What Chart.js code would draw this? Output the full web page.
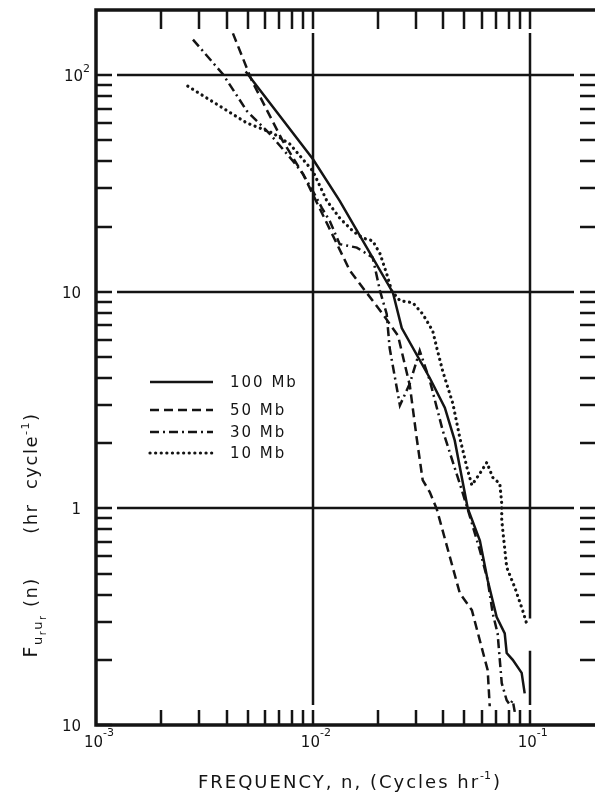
<!DOCTYPE html>
<html lang="en">
<head>
<title>Spectra of u_r at four levels</title>
<script src="https://cdn.jsdelivr.net/npm/chart.js"></script>
<style>
    html, body { margin: 0; padding: 0; background: #fff; }
    #chartBox { width: 595px; height: 798px; }
</style>
</head>
<body>
<div id="chartBox">
    <canvas id="spectrumChart" width="595" height="798"></canvas>
</div>

<script>
// Values: frequency n (cycles/hr) and F(n) (hr/cycle)
const freq100 = [0.0049, 0.01, 0.0133, 0.0234, 0.0257, 0.0346, 0.0406, 0.0451, 0.0518, 0.0589, 0.064, 0.0704, 0.0767, 0.0783, 0.0835, 0.0918, 0.0948];
const spec100 = [104, 41, 26.3, 9.9, 6.8, 4.0, 2.92, 2.06, 1.0, 0.71, 0.466, 0.315, 0.265, 0.215, 0.20, 0.174, 0.14];

const freq50 = [0.00428, 0.00524, 0.00727, 0.0090, 0.01483, 0.021, 0.0247, 0.028, 0.0301, 0.0321, 0.0346, 0.0373, 0.0476, 0.0541, 0.064, 0.0654];
const spec50 = [156, 94, 49.6, 35, 12.5, 7.9, 6.27, 3.69, 2.12, 1.35, 1.19, 0.99, 0.406, 0.339, 0.179, 0.122];

const freq30 = [0.0028, 0.00385, 0.00497, 0.00634, 0.00809, 0.009, 0.01, 0.011, 0.01197, 0.0133, 0.01595, 0.01888, 0.0204, 0.0219, 0.0226, 0.0252, 0.028, 0.0311, 0.0346, 0.0397, 0.0476, 0.0518, 0.0589, 0.064, 0.0675, 0.0711, 0.0743, 0.0783, 0.0809, 0.0835, 0.0853];
const spec30 = [146, 101, 68.2, 53.5, 40.2, 35, 29.2, 24.4, 21.2, 16.6, 16.0, 14.4, 10.1, 7.9, 5.5, 2.99, 3.77, 5.35, 3.9, 2.29, 1.30, 0.99, 0.64, 0.466, 0.328, 0.265, 0.156, 0.130, 0.124, 0.130, 0.115];

const freq10 = [0.00265, 0.00385, 0.00497, 0.0057, 0.00654, 0.00783, 0.01, 0.0116, 0.0133, 0.01527, 0.017, 0.01888, 0.0204, 0.0219, 0.0231, 0.0252, 0.0289, 0.0321, 0.0357, 0.0373, 0.0397, 0.0442, 0.0476, 0.0513, 0.0541, 0.0589, 0.0634, 0.0675, 0.0728, 0.0743, 0.0743, 0.0783, 0.0853, 0.0927, 0.0979];
const spec10 = [89, 70.5, 60.1, 57, 54, 48.1, 36.1, 26.3, 21.9, 19.1, 17.7, 17.2, 15.0, 12.1, 10.1, 9.1, 8.9, 7.9, 6.6, 5.5, 4.3, 3.05, 2.12, 1.55, 1.28, 1.45, 1.63, 1.39, 1.30, 1.05, 0.88, 0.535, 0.432, 0.339, 0.283];

const seriesNames = ['100 Mb', '50 Mb', '30 Mb', '10 Mb'];

// axis labels: base text + superscript, as printed on the figure
const yLabelValues = [100, 10, 1, 0.1];
const yLabelBase = ['10', '10', '1', '10'];
const yLabelSup = ['2', '', '', ''];
const xLabelValues = [0.001, 0.01, 0.1];
const xLabelBase = ['10', '10', '10'];
const xLabelSup = ['-3', '-2', '-1'];

const INK = '#141414';
const FONT = '"DejaVu Sans", sans-serif';

function points(fs, vs) {
    return fs.map((f, i) => ({ x: f, y: vs[i] }));
}

function lineSet(label, fs, vs, dash, cap, width) {
    return {
        label: label,
        data: points(fs, vs),
        borderColor: INK,
        borderWidth: width,
        borderDash: dash,
        borderCapStyle: cap,
        pointRadius: 0,
        tension: 0,
        fill: false
    };
}

// draws frame, inside ticks, broken grid lines, tick labels, titles and legend
const paperPlugin = {
    id: 'paper',
    afterDatasetsDraw(chart) {
        const ctx = chart.ctx;
        const xs = chart.scales.x;
        const ys = chart.scales.y;
        const a = chart.chartArea;
        ctx.save();
        ctx.strokeStyle = INK;
        ctx.fillStyle = INK;
        ctx.lineCap = 'butt';

        // grid lines (with small gaps near the frame like the original)
        ctx.lineWidth = 2.5;
        [1, 10, 100].forEach(v => {
            const y = Math.round(ys.getPixelForValue(v));
            ctx.beginPath();
            ctx.moveTo(a.left + 21, y);
            ctx.lineTo(a.right - 21, y);
            ctx.stroke();
        });
        const gridTop = a.top + 23;
        const gridBot = a.bottom - 20;
        let x = Math.round(xs.getPixelForValue(0.01));
        ctx.beginPath(); ctx.moveTo(x, gridTop); ctx.lineTo(x, gridBot); ctx.stroke();
        x = Math.round(xs.getPixelForValue(0.1));
        ctx.beginPath();
        ctx.moveTo(x, gridTop); ctx.lineTo(x, ys.getPixelForValue(0.31));
        ctx.moveTo(x, ys.getPixelForValue(0.22)); ctx.lineTo(x, gridBot);
        ctx.stroke();

        // ticks on left and right (pointing in)
        ctx.lineWidth = 2.5;
        [-1, 0, 1].forEach(e => {
            for (let m = 1; m <= 9; m++) {
                const v = m * Math.pow(10, e);
                if (v < 0.1 || v > 100) continue;
                const y = Math.round(ys.getPixelForValue(v));
                ctx.beginPath();
                ctx.moveTo(a.left, y); ctx.lineTo(a.left + 16, y);
                ctx.moveTo(a.right, y); ctx.lineTo(a.right - 15, y);
                ctx.stroke();
            }
        });
        ctx.beginPath();
        const y100 = Math.round(ys.getPixelForValue(100));
        ctx.moveTo(a.left, y100); ctx.lineTo(a.left + 16, y100);
        ctx.moveTo(a.right, y100); ctx.lineTo(a.right - 15, y100);
        ctx.stroke();

        // ticks on top and bottom
        [-3, -2].forEach(e => {
            for (let m = 2; m <= 10; m++) {
                const xp = Math.round(xs.getPixelForValue(m * Math.pow(10, e)));
                ctx.beginPath();
                ctx.moveTo(xp, a.top); ctx.lineTo(xp, a.top + 19);
                ctx.moveTo(xp, a.bottom); ctx.lineTo(xp, a.bottom - 15);
                ctx.stroke();
            }
        });

        // frame: left, top, bottom
        ctx.lineWidth = 3.5;
        ctx.beginPath();
        ctx.moveTo(a.right, a.top); ctx.lineTo(a.left, a.top);
        ctx.lineTo(a.left, a.bottom); ctx.lineTo(a.right, a.bottom);
        ctx.stroke();

        // tick labels
        ctx.textBaseline = 'alphabetic';
        yLabelValues.forEach((v, i) => {
            const y = ys.getPixelForValue(v);
            ctx.font = '15px ' + FONT;
            const w = ctx.measureText(yLabelBase[i]).width;
            ctx.font = '11px ' + FONT;
            const ws = yLabelSup[i] ? ctx.measureText(yLabelSup[i]).width : 0;
            const right = yLabelSup[i] ? a.left - 6 : a.left - 15;
            ctx.font = '15px ' + FONT;
            ctx.textAlign = 'left';
            ctx.fillText(yLabelBase[i], right - ws - w, y + 6);
            if (yLabelSup[i]) {
                ctx.font = '11px ' + FONT;
                ctx.fillText(yLabelSup[i], right - ws, y - 3);
            }
        });
        xLabelValues.forEach((v, i) => {
            const xp = xs.getPixelForValue(v);
            const left = xp - 12;
            ctx.font = '15px ' + FONT;
            ctx.textAlign = 'left';
            ctx.fillText(xLabelBase[i], left, a.bottom + 22);
            const w = ctx.measureText(xLabelBase[i]).width;
            ctx.font = '11px ' + FONT;
            ctx.fillText(xLabelSup[i], left + w, a.bottom + 11);
        });

        // x axis title
        ctx.font = '18px ' + FONT;
        ctx.letterSpacing = '2px';
        const t1 = 'FREQUENCY, n, (Cycles hr';
        const w1 = ctx.measureText(t1).width;
        ctx.font = '11px ' + FONT;
        ctx.letterSpacing = '0px';
        const w2 = ctx.measureText('-1').width;
        ctx.font = '18px ' + FONT;
        ctx.letterSpacing = '2px';
        const w3 = ctx.measureText(')').width;
        let tx = 349 - (w1 + w2 + w3) / 2;
        const ty = 788;
        ctx.fillText(t1, tx, ty);
        tx += w1;
        ctx.font = '11px ' + FONT;
        ctx.letterSpacing = '0px';
        ctx.fillText('-1', tx, ty - 9);
        tx += w2 + 2;
        ctx.font = '18px ' + FONT;
        ctx.fillText(')', tx, ty);

        // y axis title, rotated
        ctx.save();
        ctx.translate(37, 535);
        ctx.rotate(-Math.PI / 2);
        const parts = [
            { t: 'F', s: 19, dy: 0 },
            { t: 'u', s: 13, dy: 5 },
            { t: 'r', s: 10, dy: 9 },
            { t: 'u', s: 13, dy: 5 },
            { t: 'r', s: 10, dy: 9 },
            { t: ' (n)      (hr  cycle', s: 18, dy: 0 },
            { t: '-1', s: 11, dy: -8 },
            { t: ')', s: 18, dy: 0 }
        ];
        ctx.letterSpacing = '1.5px';
        let total = 0;
        parts.forEach(p => { ctx.font = p.s + 'px ' + FONT; p.w = ctx.measureText(p.t).width; total += p.w; });
        let px = -total / 2;
        parts.forEach(p => {
            ctx.font = p.s + 'px ' + FONT;
            ctx.fillText(p.t, px, p.dy);
            px += p.w;
        });
        ctx.letterSpacing = '0px';
        ctx.restore();

        // legend
        const legendY = [382, 410, 432, 453];
        chart.data.datasets.forEach((ds, i) => {
            ctx.strokeStyle = INK;
            ctx.lineWidth = ds.borderWidth;
            ctx.setLineDash(ds.borderDash);
            ctx.lineCap = ds.borderCapStyle;
            ctx.beginPath();
            ctx.moveTo(150, legendY[i]);
            ctx.lineTo(213, legendY[i]);
            ctx.stroke();
            ctx.setLineDash([]);
            ctx.lineCap = 'butt';
            ctx.font = '15px ' + FONT;
            ctx.letterSpacing = '2px';
            ctx.textAlign = 'left';
            ctx.fillText(seriesNames[i], 230, legendY[i] + 5);
            ctx.letterSpacing = '0px';
        });
        ctx.restore();
    }
};

new Chart(document.getElementById('spectrumChart').getContext('2d'), {
    type: 'line',
    data: {
        datasets: [
            lineSet(seriesNames[0], freq100, spec100, [], 'butt', 2.5),
            lineSet(seriesNames[1], freq50, spec50, [9, 5], 'butt', 2.5),
            lineSet(seriesNames[2], freq30, spec30, [9, 4, 2, 4], 'butt', 2.5),
            lineSet(seriesNames[3], freq10, spec10, [0.1, 5.5], 'round', 3.2)
        ]
    },
    options: {
        responsive: false,
        animation: false,
        layout: { padding: { left: 96, top: 10, right: 0, bottom: 73 } },
        plugins: { legend: { display: false }, tooltip: { enabled: false } },
        scales: {
            x: { type: 'logarithmic', min: 0.001, max: 0.2, display: false },
            y: { type: 'logarithmic', min: 0.1, max: 200, display: false }
        }
    },
    plugins: [paperPlugin]
});
</script>
</body>
</html>
